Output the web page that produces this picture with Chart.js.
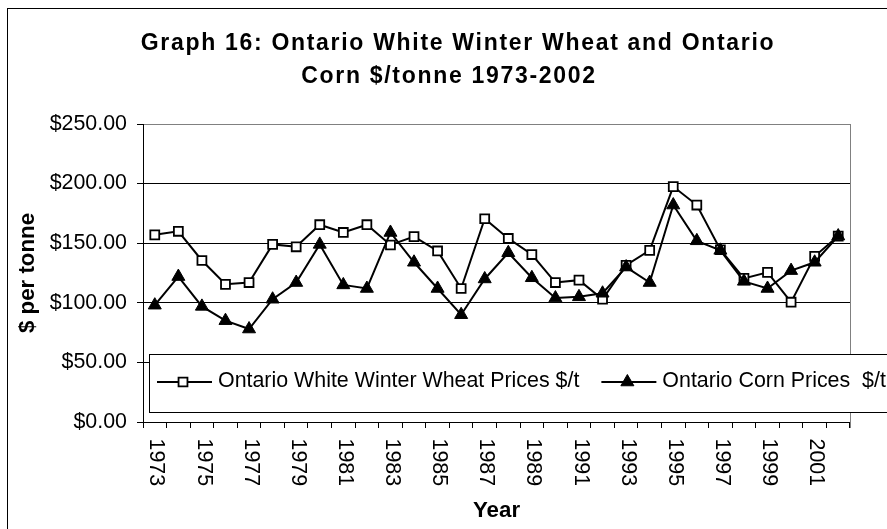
<!DOCTYPE html>
<html>
<head>
<meta charset="utf-8">
<script src="https://cdn.jsdelivr.net/npm/chart.js@4"></script>
<style>
html,body{margin:0;padding:0;background:#fff;}
canvas{display:block;}
</style>
</head>
<body>
<canvas id="c" width="887" height="529"></canvas>
<script>
// ---- data ----
const years = ['1973','1974','1975','1976','1977','1978','1979','1980','1981','1982',
               '1983','1984','1985','1986','1987','1988','1989','1990','1991','1992',
               '1993','1994','1995','1996','1997','1998','1999','2000','2001','2002'];
const wheatPrices = [157, 160, 135.5, 115.5, 117, 149, 147, 165.5, 159, 165.5,
                     148.5, 155.5, 143.5, 112, 170.5, 154, 140.5, 117, 119, 103,
                     131.5, 144, 197.5, 182, 144.5, 120.5, 125.5, 100.5, 139, 156];
const cornPrices = [98, 122, 97, 85, 78, 103, 117, 149, 115, 112,
                    159, 134, 112, 90, 120, 142, 121, 104, 105, 108,
                    130, 117, 182, 152, 144, 118, 112, 127, 134, 156];
const wheatLabel = 'Ontario White Winter Wheat Prices $/t';
const cornLabel = 'Ontario Corn Prices  $/t';
const titleLines = ['Graph 16: Ontario White Winter Wheat and Ontario', 'Corn $/tonne 1973-2002'];
const yAxisTitle = '$ per tonne';
const xAxisTitle = 'Year';
const yMin = 0, yMax = 250, yStep = 50;
const xTickEvery = 2;

const FONT = '"Liberation Sans", Arial, sans-serif';

const decor = {
  id: 'decor',
  beforeDraw(chart) {
    const ctx = chart.ctx;
    ctx.save();
    ctx.fillStyle = '#fff';
    ctx.fillRect(0, 0, chart.width, chart.height);
    ctx.restore();
  },
  beforeDatasetsDraw(chart) {
    const ctx = chart.ctx, a = chart.chartArea;
    ctx.save();
    ctx.strokeStyle = '#808080';
    ctx.lineWidth = 1;
    const rx = Math.round(a.right) + 0.5;
    ctx.beginPath();
    ctx.moveTo(rx, a.top);
    ctx.lineTo(rx, a.bottom + 6);
    ctx.stroke();
    ctx.restore();
  },
  afterDraw(chart) {
    const ctx = chart.ctx, a = chart.chartArea, xs = chart.scales.x;
    ctx.save();
    // outer frame
    ctx.strokeStyle = '#000';
    ctx.lineWidth = 1;
    ctx.strokeRect(7.5, 8.5, chart.width + 20, chart.height + 20);

    // title
    ctx.fillStyle = '#000';
    ctx.font = 'bold 23px ' + FONT;
    ctx.textAlign = 'center';
    ctx.textBaseline = 'alphabetic';
    if ('letterSpacing' in ctx) ctx.letterSpacing = '1.7px';
    ctx.fillText(titleLines[0], 458, 49.5);
    ctx.fillText(titleLines[1], 449, 83);
    if ('letterSpacing' in ctx) ctx.letterSpacing = '0px';

    // x tick labels (rotated clockwise)
    ctx.font = '21.4px ' + FONT;
    ctx.textAlign = 'left';
    ctx.textBaseline = 'middle';
    years.forEach((yr, i) => {
      if (i % xTickEvery) return;
      const x = xs.getPixelForValue(i);
      ctx.save();
      ctx.translate(x + 1.5, a.bottom + 16.5);
      ctx.rotate(Math.PI / 2);
      ctx.fillText(yr, 0, 0);
      ctx.restore();
    });

    // legend box
    const lgLeft = 149.5, lgTop = 354.5, lgBottom = 412.5;
    ctx.fillStyle = '#fff';
    ctx.fillRect(lgLeft, lgTop, chart.width, lgBottom - lgTop);
    ctx.strokeStyle = '#000';
    ctx.lineWidth = 1;
    ctx.strokeRect(lgLeft, lgTop, chart.width, lgBottom - lgTop);

    let x0 = 157;
    const ly = 382;
    chart.data.datasets.forEach((ds) => {
      ctx.strokeStyle = ds.borderColor;
      ctx.lineWidth = ds.borderWidth;
      ctx.beginPath();
      ctx.moveTo(x0, ly);
      ctx.lineTo(x0 + 55, ly);
      ctx.stroke();
      ctx.fillStyle = ds.pointBackgroundColor;
      ctx.strokeStyle = ds.pointBorderColor;
      ctx.lineWidth = ds.pointBorderWidth;
      Chart.helpers.drawPoint(ctx, {pointStyle: ds.pointStyle, radius: ds.pointRadius, borderWidth: ds.pointBorderWidth, rotation: 0}, x0 + 26, ly);
      ctx.fillStyle = '#000';
      ctx.font = '21.4px ' + FONT;
      ctx.textAlign = 'left';
      ctx.textBaseline = 'middle';
      ctx.fillText(ds.label, x0 + 61, ly - 1);
      x0 = x0 + 61 + ctx.measureText(ds.label).width + 22;
    });
    ctx.restore();
  }
};

new Chart(document.getElementById('c'), {
  type: 'line',
  data: {
    labels: years,
    datasets: [
      {
        label: wheatLabel, data: wheatPrices, order: 1,
        borderColor: '#000', borderWidth: 2, tension: 0, fill: false,
        pointStyle: 'rect', pointRadius: 6.3, pointBorderWidth: 1.8,
        pointBackgroundColor: '#fff', pointBorderColor: '#000'
      },
      {
        label: cornLabel, data: cornPrices, order: 0,
        borderColor: '#000', borderWidth: 2, tension: 0, fill: false,
        pointStyle: 'triangle', pointRadius: 7.5, pointBorderWidth: 1,
        pointBackgroundColor: '#000', pointBorderColor: '#000'
      }
    ]
  },
  options: {
    responsive: false,
    animation: false,
    events: [],
    layout: { padding: { left: 0, top: 124, right: 37, bottom: 0 } },
    plugins: { legend: { display: false }, tooltip: { enabled: false }, title: { display: false } },
    scales: {
      x: {
        type: 'category',
        offset: true,
        grid: { display: true, offset: true, drawOnChartArea: false, drawTicks: true, tickLength: 6, color: '#000', tickColor: '#000', lineWidth: 1 },
        border: { display: true, color: '#000', width: 1 },
        ticks: { display: false },
        title: { display: true, text: xAxisTitle, color: '#000', font: { family: FONT, size: 22.3, weight: 'bold' }, padding: { top: 0, bottom: 5 } },
        afterFit(s) { s.height = 107; }
      },
      y: {
        min: yMin, max: yMax,
        ticks: { stepSize: yStep, color: '#000', font: { family: FONT, size: 21.4 }, padding: 10,
                 callback: v => '$' + Number(v).toFixed(2) },
        grid: { color: c => (c.tick && c.tick.value === yMax) ? '#808080' : '#000', tickColor: '#000', tickLength: 6, lineWidth: 1 },
        border: { display: true, color: '#000', width: 1 },
        title: { display: true, text: yAxisTitle, color: '#000', font: { family: FONT, size: 22.3, weight: 'bold' }, padding: { top: 14, bottom: 0 } },
        afterFit(s) { s.width = 143; }
      }
    }
  },
  plugins: [decor]
});
</script>
</body>
</html>
